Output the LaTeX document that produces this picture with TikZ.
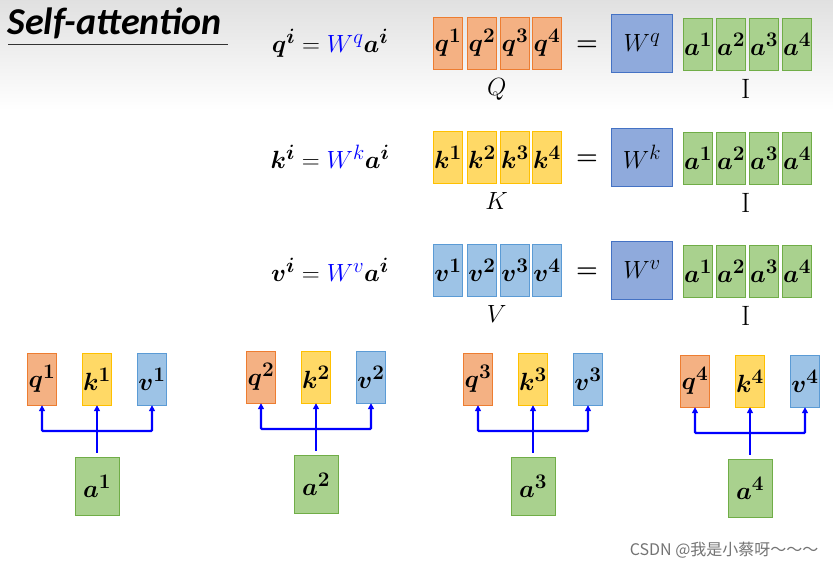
\documentclass[tikz,border=0pt]{standalone}
\usepackage{amsmath}
\usepackage{amssymb}
\usepackage{fontspec}
\newfontfamily\titlefont{Carlito}
\newfontfamily\cjk{Noto Sans CJK SC}
\usetikzlibrary{arrows.meta, positioning}
\definecolor{qfill}{RGB}{244,177,131}\definecolor{qdraw}{RGB}{237,125,49}
\definecolor{kfill}{RGB}{255,217,102}\definecolor{kdraw}{RGB}{255,192,0}
\definecolor{vfill}{RGB}{157,195,230}\definecolor{vdraw}{RGB}{91,155,213}
\definecolor{afill}{RGB}{169,209,142}\definecolor{adraw}{RGB}{112,173,71}
\definecolor{wfill}{RGB}{143,170,220}\definecolor{wdraw}{RGB}{68,114,196}
\newcommand{\bigtext}{\fontsize{28}{32}\selectfont}
\begin{document}
\begin{tikzpicture}[
    x=1pt, y=-1pt,
    box/.style={rectangle, minimum width=29pt, minimum height=52pt, inner sep=0pt, font=\bigtext},
    qbox/.style={box, draw=qdraw, fill=qfill},
    kbox/.style={box, draw=kdraw, fill=kfill},
    vbox/.style={box, draw=vdraw, fill=vfill},
    abox/.style={box, draw=adraw, fill=afill},
    inbox/.style={box, draw=adraw, fill=afill, minimum width=44pt, minimum height=58pt},
    wbox/.style={box, draw=wdraw, fill=wfill, minimum width=61pt, minimum height=58pt},
    label/.style={font=\bigtext},
    arrow/.style={-{Triangle[length=6pt,width=6pt]}, line width=2.2pt, blue}
]
\useasboundingbox (0,0) rectangle (833,569);
\shade[top color=black!12, bottom color=white] (0,0) rectangle (833,110);

% title
\node[anchor=west, font=\titlefont\bfseries\itshape\fontsize{38}{40}\selectfont] (title) at (4,23) {Self-attention};
\draw[line width=1pt, black!80] (8,45) -- (228,45);

% matrix rows
\foreach \r/\y/\cap in {q/43/Q, k/157/K, v/270/V} {
  \node[label] (eq\r) at (330,\y) {$\boldsymbol{\r^{i}}=\textcolor{blue}{W^{\r}}\boldsymbol{a^{i}}$};
  \foreach \i/\x in {1/448, 2/482, 3/515, 4/547}
    \node[\r box] (\r\i) at (\x,\y) {$\boldsymbol{\r^{\i}}$};
  \node[label, below=6pt of \r2.south east] (cap\r) {$\cap$};
  \node[font=\bfseries\fontsize{30}{30}\selectfont] (eqs\r) at (587,\y+3) {$\boldsymbol{=}$};
  \node[wbox] (w\r) at (642,\y) {$W^{\r}$};
  \foreach \i/\x in {1/698, 2/731, 3/764, 4/797}
    \node[abox] (a\r\i) at (\x,\y+1) {$\boldsymbol{a^{\i}}$};
  \node[label, below=6pt of a\r2.south east] (in\r) {$\mathrm{I}$};
}

% per-input groups
\foreach \i/\x/\y in {1/97/379, 2/316/377, 3/533/379, 4/750/381} {
  \node[qbox] (gq\i) at (\x-55,\y) {$\boldsymbol{q^{\i}}$};
  \node[kbox] (gk\i) at (\x,\y) {$\boldsymbol{k^{\i}}$};
  \node[vbox] (gv\i) at (\x+55,\y) {$\boldsymbol{v^{\i}}$};
  \node[inbox] (ga\i) at (\x,\y+107) {$\boldsymbol{a^{\i}}$};
  \coordinate (j\i) at (\x,\y+52);
  \draw[line width=2.2pt, blue] (ga\i.north) ++(0,-4) -- (j\i);
  \draw[arrow, rounded corners=1pt] (j\i) -| (gq\i.south);
  \draw[arrow, rounded corners=1pt] (j\i) -| (gv\i.south);
  \draw[arrow] (j\i) -- (gk\i.south);
}

\node[anchor=east, text=black!55, font=\cjk\fontsize{16}{18}\selectfont] (mark) at (822,550) {CSDN @我是小蔡呀～～～};
\end{tikzpicture}
\end{document}
